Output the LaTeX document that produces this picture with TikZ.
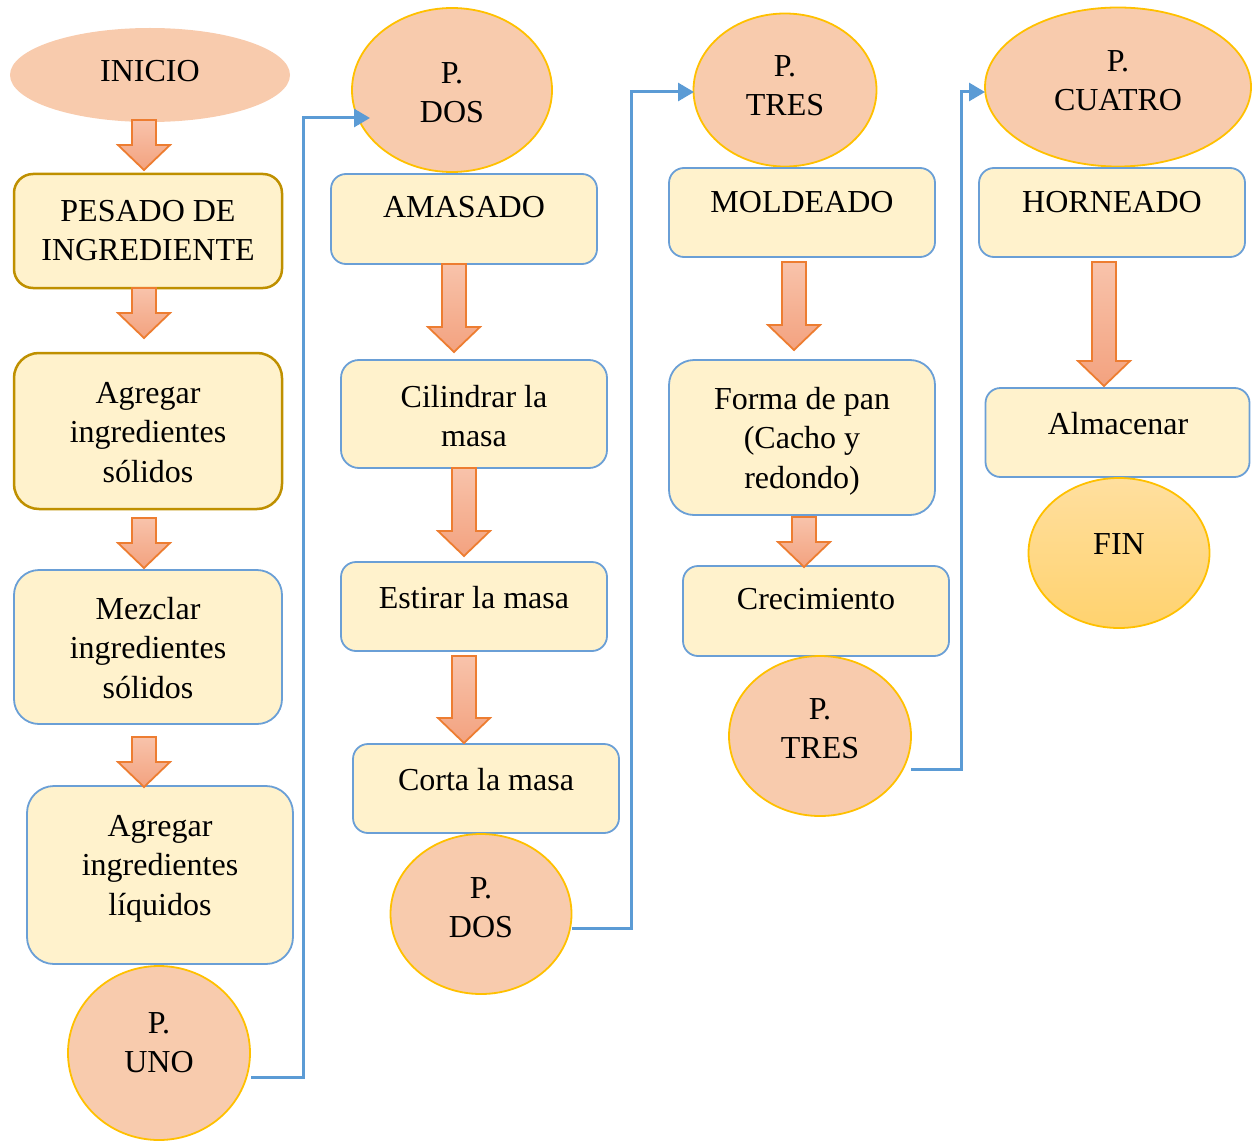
\documentclass[tikz,border=0pt]{standalone}
\usepackage{fontspec}
\setmainfont{Liberation Serif}
\usetikzlibrary{shapes.geometric,arrows.meta}
\definecolor{boxfill}{HTML}{FFF2CC}
\definecolor{boxblue}{HTML}{6A9FD6}
\definecolor{boxgold}{HTML}{BF9000}
\definecolor{ellfill}{HTML}{F8CBAD}
\definecolor{ellgold}{HTML}{FFC000}
\definecolor{arrtop}{HTML}{F8C3AB}
\definecolor{arrbot}{HTML}{F3A27F}
\definecolor{arrline}{HTML}{ED7D31}
\definecolor{conblue}{HTML}{5B9BD5}
\definecolor{fintop}{HTML}{FFDF9F}
\definecolor{finbot}{HTML}{FFD26E}
\newcommand{\blockarr}[3]{%
  \path[barrow] (#1-12,#2) -- (#1+12,#2) -- (#1+12,#3-25) -- (#1+26,#3-25) -- (#1,#3) -- (#1-26,#3-25) -- (#1-12,#3-25) -- cycle;}
\begin{document}
\begin{tikzpicture}[x=1pt,y=-1pt,
  txt/.style={anchor=north,inner sep=0pt,align=center,font=\fontsize{32}{39.5}\selectfont},
  bbox/.style={rectangle,draw=boxblue,line width=1.8pt,fill=boxfill,inner sep=0pt},
  gbox/.style={rectangle,draw=boxgold,line width=2.5pt,fill=boxfill,inner sep=0pt},
  oval/.style={ellipse,draw=ellgold,line width=1.8pt,fill=ellfill,inner sep=0pt},
  conn/.style={draw=conblue,line width=3pt,-{Triangle[length=16pt,width=18pt]}},
  barrow/.style={draw=arrline,line width=1.8pt,top color=arrtop,bottom color=arrbot}]
\useasboundingbox (0,0) rectangle (1252,1142);

% ---------- column 1 ----------
\node[ellipse,fill=ellfill,inner sep=0pt,minimum width=280pt,minimum height=94pt] (inicio) at (150,75) {};
\node[txt] (inicio-t) at (150,60) {INICIO};
\node[gbox,rounded corners=19pt,minimum width=268pt,minimum height=114pt] (pesado) at (148,231) {};
\node[txt] (pesado-t) at (148,200) {PESADO DE\\INGREDIENTE};
\node[gbox,rounded corners=25pt,minimum width=268pt,minimum height=156pt] (agsol) at (148,431) {};
\node[txt] (agsol-t) at (148,382) {Agregar\\ingredientes\\sólidos};
\node[bbox,rounded corners=25pt,minimum width=268pt,minimum height=154pt] (mezclar) at (148,647) {};
\node[txt] (mezclar-t) at (148,597) {Mezclar\\ingredientes\\sólidos};
\node[bbox,rounded corners=27pt,minimum width=266pt,minimum height=178pt] (agliq) at (160,875) {};
\node[txt] (agliq-t) at (160,815) {Agregar\\ingredientes\\líquidos};
\node[oval,minimum width=182pt,minimum height=174pt] (puno) at (159,1053) {};
\node[txt] (puno-t) at (159,1012) {P.\\UNO};
\blockarr{144}{120}{170}
\blockarr{144}{288}{338}
\blockarr{144}{518}{568}
\blockarr{144}{737}{787}

% ---------- column 2 ----------
\node[oval,minimum width=200pt,minimum height=164pt] (pdosa) at (452,90) {};
\node[txt] (pdosa-t) at (452,62) {P.\\DOS};
\node[bbox,rounded corners=15pt,minimum width=266pt,minimum height=90pt] (amasado) at (464,219) {};
\node[txt] (amasado-t) at (464,196) {AMASADO};
\node[bbox,rounded corners=18pt,minimum width=266pt,minimum height=108pt] (cilindrar) at (474,414) {};
\node[txt] (cilindrar-t) at (474,385) {Cilindrar la\\masa};
\node[bbox,rounded corners=15pt,minimum width=266pt,minimum height=89pt] (estirar) at (474,606.5) {};
\node[txt] (estirar-t) at (474,586) {Estirar la masa};
\node[bbox,rounded corners=15pt,minimum width=266pt,minimum height=89pt] (corta) at (486,788.5) {};
\node[txt] (corta-t) at (486,768) {Corta la masa};
\node[oval,minimum width=181pt,minimum height=160pt] (pdosb) at (481,914) {};
\node[txt] (pdosb-t) at (481,877) {P.\\DOS};
\blockarr{454}{264}{352}
\blockarr{464}{468}{556}
\blockarr{464}{656}{743}

% ---------- column 3 ----------
\node[oval,minimum width=183pt,minimum height=153pt] (ptresa) at (785,90) {};
\node[txt] (ptresa-t) at (785,55) {P.\\TRES};
\node[bbox,rounded corners=15pt,minimum width=266pt,minimum height=89pt] (moldeado) at (802,212.5) {};
\node[txt] (moldeado-t) at (802,191) {MOLDEADO};
\node[bbox,rounded corners=25pt,minimum width=266pt,minimum height=155pt] (forma) at (802,437.5) {};
\node[txt] (forma-t) at (802,387) {Forma de pan\\(Cacho y\\redondo)};
\node[bbox,rounded corners=15pt,minimum width=266pt,minimum height=90pt] (crec) at (816,611) {};
\node[txt] (crec-t) at (816,588) {Crecimiento};
\node[oval,minimum width=182pt,minimum height=160pt] (ptresb) at (820,736) {};
\node[txt] (ptresb-t) at (820,698) {P.\\TRES};
\blockarr{794}{262}{350}
\blockarr{804}{517}{567}

% ---------- column 4 ----------
\node[oval,minimum width=266pt,minimum height=159pt] (pcuatro) at (1118,87) {};
\node[txt] (pcuatro-t) at (1118,50) {P.\\CUATRO};
\node[bbox,rounded corners=15pt,minimum width=266pt,minimum height=89pt] (horneado) at (1112,212.5) {};
\node[txt] (horneado-t) at (1112,191) {HORNEADO};
\node[bbox,rounded corners=15pt,minimum width=264pt,minimum height=89pt] (almacenar) at (1117.5,432.5) {};
\node[txt] (almacenar-t) at (1118,412) {Almacenar};
\node[ellipse,draw=ellgold,line width=1.8pt,top color=fintop,bottom color=finbot,inner sep=0pt,minimum width=181pt,minimum height=150pt] (fin) at (1119,553) {};
\node[txt] (fin-t) at (1119,533) {FIN};
\blockarr{1104}{262}{386}

% ---------- page connectors ----------
\coordinate (c1a) at (251,1077);
\coordinate (c1m) at (303,118);
\coordinate (c1e) at (370,118);
\draw[conn] (c1a) -| (c1m) -- (c1e);
\coordinate (c2a) at (572,928);
\coordinate (c2m) at (631,92);
\coordinate (c2e) at (694,92);
\draw[conn] (c2a) -| (c2m) -- (c2e);
\coordinate (c3a) at (911,769);
\coordinate (c3m) at (961,92);
\coordinate (c3e) at (985,92);
\draw[conn] (c3a) -| (c3m) -- (c3e);
\end{tikzpicture}
\end{document}
